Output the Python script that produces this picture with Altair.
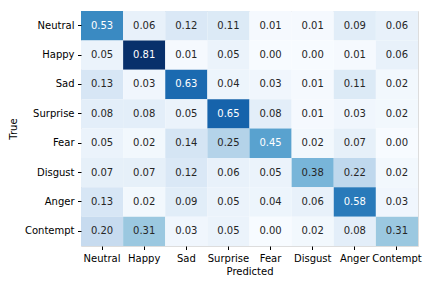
import altair as alt
import pandas as pd

labels = ["Neutral", "Happy", "Sad", "Surprise", "Fear", "Disgust", "Anger", "Contempt"]
row_neutral = [0.53, 0.06, 0.12, 0.11, 0.01, 0.01, 0.09, 0.06]
row_happy = [0.05, 0.81, 0.01, 0.05, 0.00, 0.00, 0.01, 0.06]
row_sad = [0.13, 0.03, 0.63, 0.04, 0.03, 0.01, 0.11, 0.02]
row_surprise = [0.08, 0.08, 0.05, 0.65, 0.08, 0.01, 0.03, 0.02]
row_fear = [0.05, 0.02, 0.14, 0.25, 0.45, 0.02, 0.07, 0.00]
row_disgust = [0.07, 0.07, 0.12, 0.06, 0.05, 0.38, 0.22, 0.02]
row_anger = [0.13, 0.02, 0.09, 0.05, 0.04, 0.06, 0.58, 0.03]
row_contempt = [0.20, 0.31, 0.03, 0.05, 0.00, 0.02, 0.08, 0.31]
rows = [row_neutral, row_happy, row_sad, row_surprise, row_fear, row_disgust, row_anger, row_contempt]

blues = ['#f7fbff', '#deebf7', '#c6dbef', '#9ecae1', '#6baed6',
         '#4292c6', '#2171b5', '#08519c', '#08306b']

records = []
for t, r in zip(labels, rows):
    for p, v in zip(labels, r):
        records.append({"True": t, "Predicted": p, "v": v, "txt": f"{v:.2f}"})
df = pd.DataFrame(records)

vmax = 0.81
dom = [vmax * i / (len(blues) - 1) for i in range(len(blues))]

x = alt.X("Predicted:N", sort=labels, title="Predicted",
          scale=alt.Scale(paddingInner=0, paddingOuter=0),
          axis=alt.Axis(labelAngle=0, domain=False, tickSize=3.5, tickColor="#000000",
                        labelFont="DejaVu Sans", labelFontSize=10, labelColor="#000000",
                        titleFont="DejaVu Sans", titleFontSize=10, titleFontWeight="normal",
                        titleColor="#000000", labelPadding=3.5, titlePadding=3))
y = alt.Y("True:N", sort=labels, title="True",
          scale=alt.Scale(paddingInner=0, paddingOuter=0),
          axis=alt.Axis(domain=False, tickSize=3.5, tickColor="#000000",
                        labelFont="DejaVu Sans", labelFontSize=10, labelColor="#000000",
                        titleFont="DejaVu Sans", titleFontSize=10, titleFontWeight="normal",
                        titleColor="#000000", labelPadding=3.5, titlePadding=6))

rect = alt.Chart(df).mark_rect().encode(
    x=x, y=y,
    color=alt.Color("v:Q", scale=alt.Scale(domain=dom, range=blues), legend=None),
)
text = alt.Chart(df).mark_text(font="DejaVu Sans", fontSize=10).encode(
    x=alt.X("Predicted:N", sort=labels),
    y=alt.Y("True:N", sort=labels),
    text="txt:N",
    color=alt.condition(alt.datum.v >= 0.4, alt.value("#ffffff"), alt.value("#262626")),
)

chart = (rect + text).properties(
    width=337, height=235,
    autosize=alt.AutoSizeParams(type="none"),
    padding={"left": 73, "top": 3, "right": 6, "bottom": 40},
).configure_view(strokeWidth=0).configure(background="#ffffff")

chart.save("out.html", embed_options={"renderer": "svg", "actions": False})
